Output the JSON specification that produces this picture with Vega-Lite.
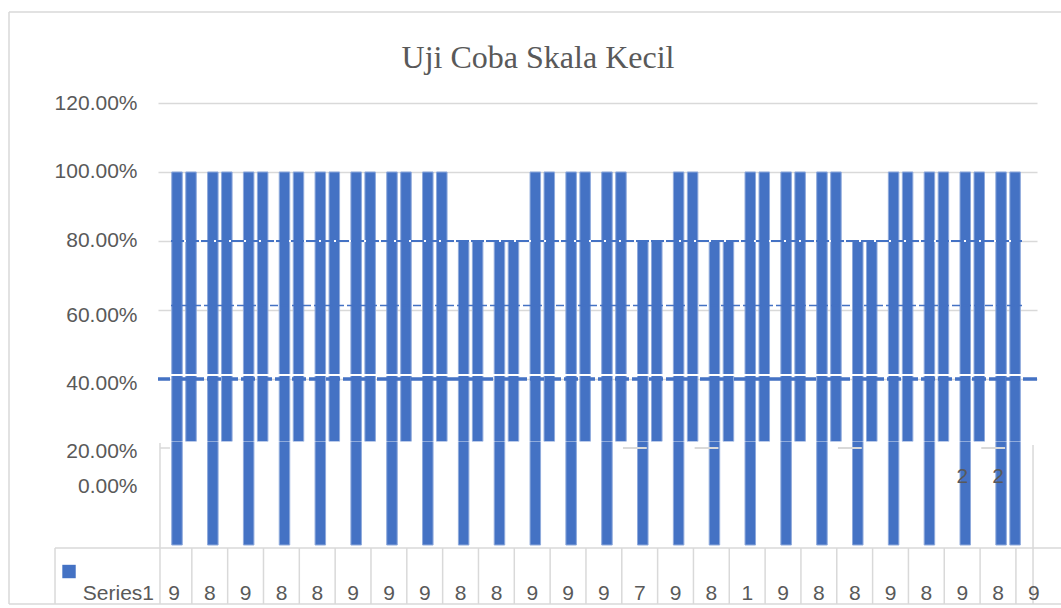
{
  "$schema": "https://vega.github.io/schema/vega-lite/v6.json",
  "width": 879,
  "height": 442,
  "autosize": {"type": "none"},
  "padding": {"left": 158, "top": 103, "right": 24, "bottom": 63},
  "background": "white",
  "title": {"text": "Uji Coba Skala Kecil", "font": "Liberation Serif", "fontSize": 32, "fontWeight": "normal", "color": "#595959", "anchor": "middle", "frame": "group", "dx": -59.5, "offset": -88.5, "baseline": "alphabetic"},
  "config": {"view": {"stroke": null}},
  "data": {"values": [{"k": 1}]},
  "datasets": {
    "bars": [
      {"pair": 1, "part": "a", "value": 1.0, "base": -0.0812}, {"pair": 1, "part": "b", "value": 1.0, "base": 0.2188},
      {"pair": 2, "part": "a", "value": 1.0, "base": -0.0812}, {"pair": 2, "part": "b", "value": 1.0, "base": 0.2188},
      {"pair": 3, "part": "a", "value": 1.0, "base": -0.0812}, {"pair": 3, "part": "b", "value": 1.0, "base": 0.2188},
      {"pair": 4, "part": "a", "value": 1.0, "base": -0.0812}, {"pair": 4, "part": "b", "value": 1.0, "base": 0.2188},
      {"pair": 5, "part": "a", "value": 1.0, "base": -0.0812}, {"pair": 5, "part": "b", "value": 1.0, "base": 0.2188},
      {"pair": 6, "part": "a", "value": 1.0, "base": -0.0812}, {"pair": 6, "part": "b", "value": 1.0, "base": 0.2188},
      {"pair": 7, "part": "a", "value": 1.0, "base": -0.0812}, {"pair": 7, "part": "b", "value": 1.0, "base": 0.2188},
      {"pair": 8, "part": "a", "value": 1.0, "base": -0.0812}, {"pair": 8, "part": "b", "value": 1.0, "base": 0.2188},
      {"pair": 9, "part": "a", "value": 0.8, "base": -0.0812}, {"pair": 9, "part": "b", "value": 0.8, "base": 0.2188},
      {"pair": 10, "part": "a", "value": 0.8, "base": -0.0812}, {"pair": 10, "part": "b", "value": 0.8, "base": 0.2188},
      {"pair": 11, "part": "a", "value": 1.0, "base": -0.0812}, {"pair": 11, "part": "b", "value": 1.0, "base": 0.2188},
      {"pair": 12, "part": "a", "value": 1.0, "base": -0.0812}, {"pair": 12, "part": "b", "value": 1.0, "base": 0.2188},
      {"pair": 13, "part": "a", "value": 1.0, "base": -0.0812}, {"pair": 13, "part": "b", "value": 1.0, "base": 0.2188},
      {"pair": 14, "part": "a", "value": 0.8, "base": -0.0812}, {"pair": 14, "part": "b", "value": 0.8, "base": 0.2188},
      {"pair": 15, "part": "a", "value": 1.0, "base": -0.0812}, {"pair": 15, "part": "b", "value": 1.0, "base": 0.2188},
      {"pair": 16, "part": "a", "value": 0.8, "base": -0.0812}, {"pair": 16, "part": "b", "value": 0.8, "base": 0.2188},
      {"pair": 17, "part": "a", "value": 1.0, "base": -0.0812}, {"pair": 17, "part": "b", "value": 1.0, "base": 0.2188},
      {"pair": 18, "part": "a", "value": 1.0, "base": -0.0812}, {"pair": 18, "part": "b", "value": 1.0, "base": 0.2188},
      {"pair": 19, "part": "a", "value": 1.0, "base": -0.0812}, {"pair": 19, "part": "b", "value": 1.0, "base": 0.2188},
      {"pair": 20, "part": "a", "value": 0.8, "base": -0.0812}, {"pair": 20, "part": "b", "value": 0.8, "base": 0.2188},
      {"pair": 21, "part": "a", "value": 1.0, "base": -0.0812}, {"pair": 21, "part": "b", "value": 1.0, "base": 0.2188},
      {"pair": 22, "part": "a", "value": 1.0, "base": -0.0812}, {"pair": 22, "part": "b", "value": 1.0, "base": 0.2188},
      {"pair": 23, "part": "a", "value": 1.0, "base": -0.0812}, {"pair": 23, "part": "b", "value": 1.0, "base": 0.2188},
      {"pair": 24, "part": "a", "value": 1.0, "base": -0.0812}, {"pair": 24, "part": "b", "value": 1.0, "base": -0.0812}
    ],
    "table": [
      {"col": 1, "n": "9"}, {"col": 2, "n": "8"}, {"col": 3, "n": "9"}, {"col": 4, "n": "8"}, {"col": 5, "n": "8"},
      {"col": 6, "n": "9"}, {"col": 7, "n": "9"}, {"col": 8, "n": "9"}, {"col": 9, "n": "8"}, {"col": 10, "n": "8"},
      {"col": 11, "n": "9"}, {"col": 12, "n": "9"}, {"col": 13, "n": "9"}, {"col": 14, "n": "7"}, {"col": 15, "n": "9"},
      {"col": 16, "n": "8"}, {"col": 17, "n": "1"}, {"col": 18, "n": "9"}, {"col": 19, "n": "8"}, {"col": 20, "n": "8"},
      {"col": 21, "n": "9"}, {"col": 22, "n": "8"}, {"col": 23, "n": "9"}, {"col": 24, "n": "8"}, {"col": 25, "n": "9"}
    ],
    "labels": [{"col": 23, "label": "2"}, {"col": 24, "label": "2"}],
    "fragments": [{"from": 13, "to": 14}, {"from": 15, "to": 16}, {"from": 19, "to": 20}, {"from": 23, "to": 24}]
  },
  "layer": [
    {
      "data": {"name": "bars"},
      "transform": [{"filter": "datum.part === 'a'"}],
      "mark": {"type": "bar", "width": 10.5, "xOffset": 3, "fill": "#4472C4", "stroke": "#8FAADC", "strokeWidth": 1},
      "encoding": {
        "x": {"field": "pair", "type": "quantitative", "scale": {"domain": [0.5534, 25.086], "nice": false, "zero": false, "padding": 0}, "axis": null},
        "y": {"field": "value", "type": "quantitative", "scale": {"domain": [-0.08116, 1.2], "nice": false, "zero": false, "padding": 0},
          "axis": {"values": [0, 0.2, 0.4, 0.6, 0.8, 1, 1.2], "format": ".2%", "title": null, "domain": false, "ticks": false,
            "labelPadding": 21, "labelFont": "Liberation Sans", "labelFontSize": 21, "labelColor": "#595959",
            "labelOffset": {"condition": [
              {"test": "abs(datum.value) < 0.01", "value": -30},
              {"test": "abs(datum.value - 0.2) < 0.01", "value": 4},
              {"test": "abs(datum.value - 0.4) < 0.01", "value": 5},
              {"test": "abs(datum.value - 0.6) < 0.01", "value": 6}
            ], "value": 0},
            "grid": true, "gridColor": {"condition": {"test": "datum.value < 0.3", "value": "transparent"}, "value": "#d9d9d9"}, "gridWidth": 1.5}},
        "y2": {"field": "base"}
      }
    },
    {
      "data": {"name": "bars"},
      "transform": [{"filter": "datum.part === 'b'"}],
      "mark": {"type": "bar", "width": 10.5, "xOffset": 17, "fill": "#4472C4", "stroke": "#8FAADC", "strokeWidth": 1},
      "encoding": {
        "x": {"field": "pair", "type": "quantitative", "axis": null},
        "y": {"field": "value", "type": "quantitative", "axis": {"title": null}},
        "y2": {"field": "base"}
      }
    },
    {"mark": {"type": "rule", "color": "white", "strokeWidth": 2}, "encoding": {"y": {"datum": 0.4116, "axis": {"title": null}}}},
    {"mark": {"type": "rule", "color": "white", "strokeWidth": 1, "opacity": 0.4}, "encoding": {"y": {"datum": 0.2188, "axis": {"title": null}}}},
    {"mark": {"type": "rule", "color": "white", "strokeWidth": 2}, "encoding": {"x": {"datum": 0.916, "axis": null}, "x2": {"datum": 24.667}, "y": {"datum": 0.8, "axis": {"title": null}}}},
    {"mark": {"type": "rule", "color": "#4472C4", "strokeWidth": 2, "strokeDash": [13, 2]}, "encoding": {"x": {"datum": 0.916, "axis": null}, "x2": {"datum": 24.667}, "y": {"datum": 0.8, "axis": {"title": null}}}},
    {"mark": {"type": "rule", "color": "#4472C4", "strokeWidth": 1.5, "strokeDash": [8, 3]}, "encoding": {"x": {"datum": 0.916, "axis": null}, "x2": {"datum": 24.667}, "y": {"datum": 0.613, "axis": {"title": null}}}},
    {"mark": {"type": "rule", "color": "#4472C4", "strokeWidth": 3.5, "strokeDash": [14, 3]}, "encoding": {"y": {"datum": 0.4, "axis": {"title": null}}}},
    {
      "data": {"name": "fragments"},
      "mark": {"type": "rule", "color": "#d9d9d9", "strokeWidth": 2, "xOffset": 19, "x2Offset": 7},
      "encoding": {"x": {"field": "from", "type": "quantitative", "axis": null}, "x2": {"field": "to"}, "y": {"datum": 0.2, "axis": {"title": null}}}
    },
    {"mark": {"type": "rule", "color": "#d9d9d9", "strokeWidth": 1.5}, "encoding": {"x": {"datum": 0.609, "axis": null}, "x2": {"datum": 0.888}, "y": {"datum": 0.2, "axis": {"title": null}}}},
    {"mark": {"type": "rule", "color": "#d9d9d9", "strokeWidth": 1.5}, "encoding": {"x": {"datum": -3.605, "axis": null}, "y": {"datum": 1.4638, "axis": {"title": null}}, "y2": {"datum": -0.2522}}},
    {"mark": {"type": "rule", "color": "#d9d9d9", "strokeWidth": 1.5}, "encoding": {"x": {"datum": -3.605, "axis": null}, "x2": {"datum": 25.756}, "y": {"datum": 1.4638, "axis": {"title": null}}}},
    {"mark": {"type": "rule", "color": "#d9d9d9", "strokeWidth": 1.5}, "encoding": {"x": {"datum": -3.605, "axis": null}, "x2": {"datum": 25.756}, "y": {"datum": -0.2522, "axis": {"title": null}}}},
    {"mark": {"type": "rule", "color": "#d9d9d9", "strokeWidth": 1.5}, "encoding": {"x": {"datum": -2.321, "axis": null}, "x2": {"datum": 25.756}, "y": {"datum": -0.0899, "axis": {"title": null}}}},
    {"mark": {"type": "rule", "color": "#d9d9d9", "strokeWidth": 1.5}, "encoding": {"x": {"datum": -2.321, "axis": null}, "y": {"datum": -0.0899, "axis": {"title": null}}, "y2": {"datum": -0.2522}}},
    {"mark": {"type": "rule", "color": "#d9d9d9", "strokeWidth": 1.5}, "encoding": {"x": {"datum": 0.609, "axis": null}, "y": {"datum": 0.2145, "axis": {"title": null}}, "y2": {"datum": -0.2522}}},
    {"mark": {"type": "rule", "color": "#d9d9d9", "strokeWidth": 1.5}, "encoding": {"x": {"datum": 24.975, "axis": null}, "y": {"datum": 0.2087, "axis": {"title": null}}, "y2": {"datum": -0.2522}}},
    {
      "data": {"name": "table"},
      "transform": [{"filter": "datum.col >= 2"}],
      "mark": {"type": "rule", "color": "#d9d9d9", "strokeWidth": 1.5, "xOffset": -18},
      "encoding": {"x": {"field": "col", "type": "quantitative", "axis": null}, "y": {"datum": -0.0899, "axis": {"title": null}}, "y2": {"datum": -0.2522}}
    },
    {
      "data": {"name": "table"},
      "mark": {"type": "text", "font": "Liberation Sans", "fontSize": 21, "fill": "#595959", "baseline": "middle", "align": "center"},
      "encoding": {"x": {"field": "col", "type": "quantitative", "axis": null}, "y": {"datum": -0.222, "axis": {"title": null}}, "text": {"field": "n"}}
    },
    {
      "mark": {"type": "text", "font": "Liberation Sans", "fontSize": 21, "fill": "#595959", "baseline": "middle", "align": "right"},
      "encoding": {"x": {"datum": 0.4418, "axis": null}, "y": {"datum": -0.222, "axis": {"title": null}}, "text": {"value": "Series1"}}
    },
    {
      "mark": {"type": "point", "shape": "square", "filled": true, "size": 180, "color": "#4472C4", "opacity": 1},
      "encoding": {"x": {"datum": -1.93, "axis": null}, "y": {"datum": -0.158, "axis": {"title": null}}}
    },
    {
      "data": {"name": "labels"},
      "mark": {"type": "text", "font": "Liberation Sans", "fontSize": 21, "fill": "#595959", "baseline": "middle", "align": "center"},
      "encoding": {"x": {"field": "col", "type": "quantitative", "axis": null}, "y": {"datum": 0.116, "axis": {"title": null}}, "text": {"field": "label"}}
    }
  ]
}
